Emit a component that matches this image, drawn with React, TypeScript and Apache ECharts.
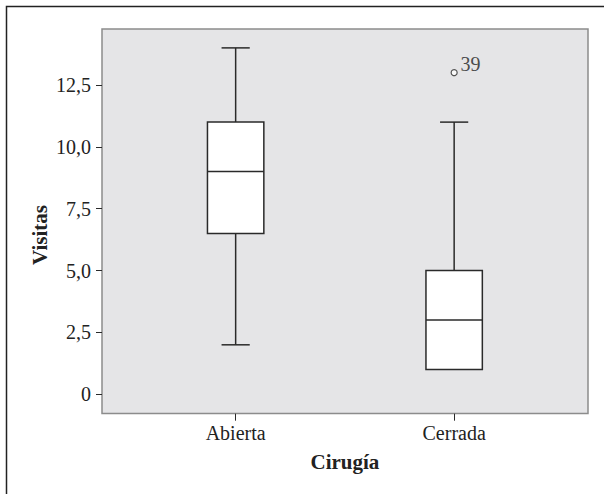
import React, { useEffect, useRef } from "react";
import * as echarts from "echarts";

const categories = ["Abierta", "Cerrada"];
// [min, Q1, median, Q3, max]
const boxValues = [
  [2, 6.5, 9, 11, 14],
  [1, 1, 3, 5, 11],
];
const outliers = [[1, 13, "39"]];
const yMin = 0;
const yMax = 12.5;
const yStep = 2.5;

const FONT = "Liberation Serif, Times New Roman, serif";
const INK = "#2a2a2a";

export default function App() {
  const ref = useRef<HTMLDivElement>(null);
  useEffect(() => {
    if (!ref.current) return;
    const chart = echarts.init(ref.current, null, { renderer: "svg" });
    const fmt = (v: number) => (v === 0 ? "0" : v.toFixed(1).replace(".", ","));
    chart.setOption({
      animation: false,
      textStyle: { fontFamily: FONT },
      graphic: [
        {
          type: "rect",
          z: -10,
          shape: { x: 6.5, y: 6.5, width: 800, height: 800 },
          style: { fill: "#ffffff", stroke: "#222", lineWidth: 1.5 },
        },
        {
          type: "rect",
          z: -5,
          shape: { x: 102, y: 29, width: 486, height: 384.5 },
          style: { fill: "#e5e5e7", stroke: "#8c8c8c", lineWidth: 1.5 },
        },
        {
          type: "text",
          x: 40,
          y: 235,
          rotation: Math.PI / 2,
          style: {
            text: "Visitas",
            fontFamily: FONT,
            fontWeight: "bold",
            fontSize: 21,
            fill: "#222",
            align: "center",
            verticalAlign: "middle",
          },
        },
      ],
      grid: { left: 126.4, width: 437, top: 85, bottom: 99.7 },
      xAxis: {
        type: "category",
        data: categories,
        offset: 19.4,
        name: "Cirugía",
        nameLocation: "middle",
        nameGap: 38,
        nameTextStyle: { fontFamily: FONT, fontWeight: "bold", fontSize: 21, color: "#222" },
        axisLine: { show: false, onZero: false },
        axisTick: { show: true, alignWithLabel: true, length: 7, lineStyle: { color: INK, width: 1 } },
        axisLabel: { fontFamily: FONT, fontSize: 20, color: "#222", margin: 9 },
        splitLine: { show: false },
      },
      yAxis: {
        type: "value",
        min: yMin,
        max: yMax,
        interval: yStep,
        offset: 24.4,
        axisLine: { show: false, onZero: false },
        axisTick: {
          show: true,
          length: 6,
          lineStyle: { color: INK, width: 1 },
        },
        axisLabel: {
          fontFamily: FONT,
          fontSize: 20,
          color: "#222",
          margin: 11,
          formatter: fmt,
        },
        splitLine: { show: false },
      },
      series: [
        {
          type: "custom",
          clip: false,
          data: boxValues.map((b, i) => [i, ...b]),
          encode: { x: 0, y: [1, 2, 3, 4, 5] },
          renderItem: (params: any, api: any) => {
            const idx = api.value(0);
            const vmin = api.value(1);
            const q1 = api.value(2);
            const med = api.value(3);
            const q3 = api.value(4);
            const vmax = api.value(5);
            const pMin = api.coord([idx, vmin]);
            const pQ1 = api.coord([idx, q1]);
            const pMed = api.coord([idx, med]);
            const pQ3 = api.coord([idx, q3]);
            const pMax = api.coord([idx, vmax]);
            const cx = pMed[0];
            const bw = api.size([1, 0])[0] * 0.258;
            const cw = bw / 2;
            const ls = { stroke: INK, lineWidth: 1.5 };
            const children: any[] = [];
            if (vmax > q3)
              children.push({ type: "line", shape: { x1: cx, y1: pQ3[1], x2: cx, y2: pMax[1] }, style: ls });
            if (vmin < q1)
              children.push({ type: "line", shape: { x1: cx, y1: pQ1[1], x2: cx, y2: pMin[1] }, style: ls });
            children.push({ type: "line", shape: { x1: cx - cw / 2, y1: pMax[1], x2: cx + cw / 2, y2: pMax[1] }, style: ls });
            if (vmin < q1)
              children.push({ type: "line", shape: { x1: cx - cw / 2, y1: pMin[1], x2: cx + cw / 2, y2: pMin[1] }, style: ls });
            children.push({
              type: "rect",
              shape: { x: cx - bw / 2, y: pQ3[1], width: bw, height: pQ1[1] - pQ3[1] },
              style: { fill: "#ffffff", stroke: INK, lineWidth: 1.5 },
            });
            children.push({ type: "line", shape: { x1: cx - bw / 2, y1: pMed[1], x2: cx + bw / 2, y2: pMed[1] }, style: ls });
            return { type: "group", children };
          },
        },
        {
          type: "scatter",
          clip: false,
          data: outliers.map((o) => [o[0], o[1], o[2]]),
          symbol: "circle",
          symbolSize: 6,
          itemStyle: { color: "#ffffff", borderColor: INK, borderWidth: 1.2 },
          label: {
            show: true,
            formatter: (p: any) => p.data[2],
            position: [10, -15],
            fontFamily: FONT,
            fontSize: 20,
            color: "#222",
          },
          z: 5,
        },
      ],
    });
    return () => chart.dispose();
  }, []);
  return (
    <div
      ref={ref}
      style={{ position: "fixed", left: 0, top: 0, width: 604, height: 494, background: "#fff" }}
    />
  );
}
